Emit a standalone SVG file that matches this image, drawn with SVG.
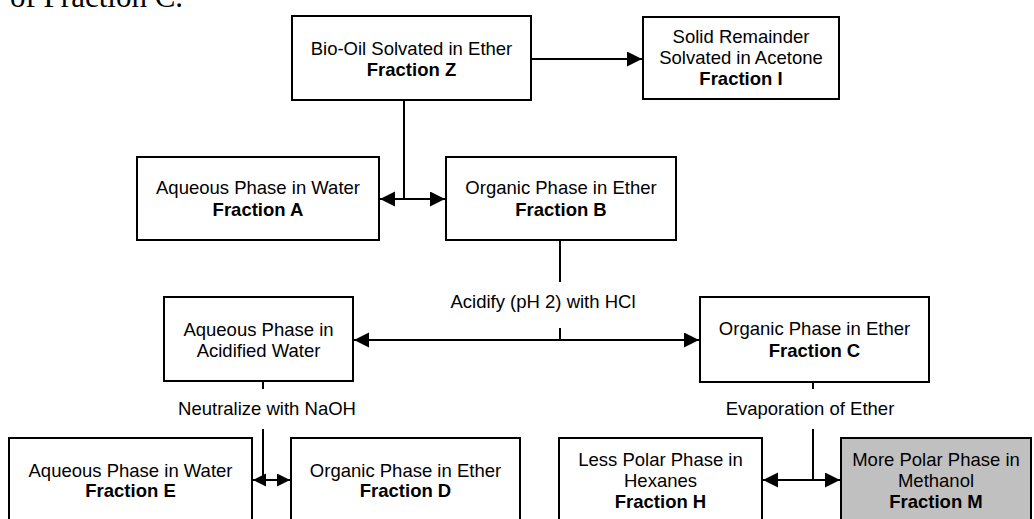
<svg xmlns="http://www.w3.org/2000/svg" width="1034" height="519" viewBox="0 0 1034 519">
<style>
.box{fill:#fff;stroke:#000;stroke-width:2}
.grey{fill:#c0c0c0}
.t{font-family:"Liberation Sans",Arial,sans-serif;font-size:18.5px;text-anchor:middle;fill:#000}
.b{font-weight:bold}
.ln{stroke:#000;stroke-width:2;fill:none}
</style>
<defs>
<marker id="ah" markerUnits="userSpaceOnUse" markerWidth="16" markerHeight="16" refX="15" refY="7.5" orient="auto-start-reverse">
<path d="M0,0 L15,7.5 L0,15 z" fill="#000"/>
</marker>
<marker id="ahs" markerUnits="userSpaceOnUse" markerWidth="14" markerHeight="14" refX="13" refY="6.5" orient="auto-start-reverse">
<path d="M0,0 L13,6.5 L0,13 z" fill="#000"/>
</marker>
</defs>
<text x="10" y="7" style="font-family:'Liberation Serif','Times New Roman',serif;font-size:31px">of Fraction C.</text>
<g id="connectors">
<line class="ln" x1="531" y1="59" x2="642" y2="59" marker-end="url(#ah)"/>
<line class="ln" x1="404" y1="100" x2="404" y2="199"/>
<line class="ln" x1="380" y1="199" x2="445" y2="199" marker-start="url(#ah)" marker-end="url(#ah)"/>
<line class="ln" x1="560" y1="240" x2="560" y2="282"/>
<line class="ln" x1="560" y1="328" x2="560" y2="340"/>
<line class="ln" x1="354" y1="340" x2="699" y2="340" marker-start="url(#ah)" marker-end="url(#ah)"/>
<text class="t" x="543" y="308">Acidify (pH 2) with HCl</text>
<line class="ln" x1="263" y1="381" x2="263" y2="389"/>
<line class="ln" x1="263" y1="429" x2="263" y2="480"/>
<line class="ln" x1="253" y1="480" x2="290" y2="480" marker-start="url(#ahs)" marker-end="url(#ahs)"/>
<text class="t" x="267" y="415">Neutralize with NaOH</text>
<line class="ln" x1="813" y1="382" x2="813" y2="389"/>
<line class="ln" x1="813" y1="429" x2="813" y2="480"/>
<line class="ln" x1="763" y1="480" x2="840" y2="480" marker-start="url(#ah)" marker-end="url(#ah)"/>
<text class="t" x="810" y="415">Evaporation of Ether</text>
</g>
<g id="nodeZ">
<rect class="box" x="292" y="16" width="239" height="84"/>
<text class="t" x="411.5" y="55">Bio-Oil Solvated in Ether</text>
<text class="t b" x="411.5" y="76">Fraction Z</text>
</g>
<g id="nodeI">
<rect class="box" x="643" y="17" width="196" height="82"/>
<text class="t" x="741" y="43">Solid Remainder</text>
<text class="t" x="741" y="64">Solvated in Acetone</text>
<text class="t b" x="741" y="85">Fraction I</text>
</g>
<g id="nodeA">
<rect class="box" x="137" y="157" width="242" height="83"/>
<text class="t" x="258" y="194">Aqueous Phase in Water</text>
<text class="t b" x="258" y="216">Fraction A</text>
</g>
<g id="nodeB">
<rect class="box" x="446" y="157" width="230" height="83"/>
<text class="t" x="561" y="194">Organic Phase in Ether</text>
<text class="t b" x="561" y="216">Fraction B</text>
</g>
<g id="nodeAcid">
<rect class="box" x="164" y="297" width="189" height="84"/>
<text class="t" x="258.5" y="336">Aqueous Phase in</text>
<text class="t" x="258.5" y="357">Acidified Water</text>
</g>
<g id="nodeC">
<rect class="box" x="700" y="297" width="229" height="85"/>
<text class="t" x="814.5" y="335">Organic Phase in Ether</text>
<text class="t b" x="814.5" y="357">Fraction C</text>
</g>
<g id="nodeE">
<rect class="box" x="9" y="438" width="243" height="95"/>
<text class="t" x="130.5" y="477">Aqueous Phase in Water</text>
<text class="t b" x="130.5" y="497">Fraction E</text>
</g>
<g id="nodeD">
<rect class="box" x="291" y="438" width="229" height="95"/>
<text class="t" x="405.5" y="477">Organic Phase in Ether</text>
<text class="t b" x="405.5" y="497">Fraction D</text>
</g>
<g id="nodeH">
<rect class="box" x="559" y="438" width="203" height="95"/>
<text class="t" x="660.5" y="466">Less Polar Phase in</text>
<text class="t" x="660.5" y="487">Hexanes</text>
<text class="t b" x="660.5" y="508">Fraction H</text>
</g>
<g id="nodeM">
<rect class="box grey" x="841" y="438" width="190" height="95"/>
<text class="t" x="936" y="466">More Polar Phase in</text>
<text class="t" x="936" y="487">Methanol</text>
<text class="t b" x="936" y="508">Fraction M</text>
</g>
</svg>
